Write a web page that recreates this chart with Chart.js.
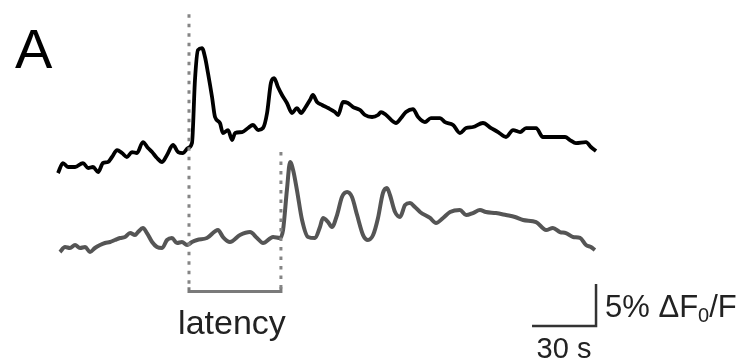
<!DOCTYPE html>
<html>
<head>
<meta charset="utf-8">
<script src="https://cdn.jsdelivr.net/npm/chart.js@4"></script>
<style>
  body { margin: 0; background: #fff; }
  #wrap { width: 746px; height: 364px; }
</style>
</head>
<body>
<div id="wrap"><canvas id="traceChart" width="746" height="364"></canvas></div>
<script>
// time in s, signal in % dF0/F (each trace relative to its own start baseline)
const blackTime = [0, 2.3, 4.7, 8.0, 11.7, 14.1, 16.4, 18.8, 21.1, 23.4, 25.3, 27.7, 30.0, 32.3, 34.7, 37.0, 39.8, 42.2, 44.1, 46.4, 48.8, 51.1, 53.9, 56.3, 58.6, 60.9, 62.8,
  64.2, 65.6, 67.5, 68.9, 70.3, 72.2, 73.6, 75.9, 77.3, 79.7, 81.6, 83.0, 86.3, 89.1, 91.4, 93.8, 96.1, 98.0, 99.8, 101.3, 103.1, 105.0, 107.3, 109.7, 112.0, 113.9,
  115.8, 118.1, 119.5, 121.4, 123.8, 126.6, 129.8, 131.3, 133.6, 135.9, 138.3, 141.6, 143.9, 147.2, 150.0, 151.4, 153.8, 158.4, 160.8, 163.1, 166.4, 168.8, 172.0,
  174.8, 179.1, 181.4, 185.2, 188.4, 191.3, 194.5, 199.2, 203.0, 206.3, 210.0, 213.3, 216.6, 219.4, 224.1, 227.3, 232.0, 237.7, 240.0, 242.8, 247.5, 249.8, 252.2];
const blackSignal = [-0.36, 0.83, 0.36, 0.36, 0.83, 0.24, 0.36, -0.24, 0.83, 0.95, 1.55, 2.38, 2.02, 1.55, 2.14, 2.02, 3.33, 2.62, 2.14, 1.43, 0.95, 1.79, 2.98, 2.14, 2.02, 2.62, 3.21,
  10.71, 14.29, 14.52, 13.45, 11.55, 8.69, 6.31, 5.60, 4.40, 4.76, 3.57, 4.40, 4.52, 5.00, 5.36, 4.76, 5.00, 6.79, 10.36, 10.95, 9.88, 8.93, 7.98, 6.79, 7.38, 6.79,
  7.38, 8.33, 8.93, 8.10, 7.74, 7.38, 6.90, 6.55, 8.10, 7.98, 7.50, 7.14, 6.55, 6.31, 6.55, 6.90, 6.55, 5.60, 6.19, 6.90, 7.26, 6.31, 5.71,
  6.19, 6.19, 5.71, 5.36, 4.40, 5.00, 5.12, 5.60, 5.00, 4.52, 3.93, 4.76, 4.52, 5.00, 5.00, 3.93, 3.93, 3.93, 3.57, 3.21, 3.33, 2.74, 2.26];

const grayTime = [0.9, 3.3, 5.6, 8.0, 10.3, 12.7, 15.0, 17.3, 19.7, 22.0, 24.4, 26.7, 29.1, 31.4, 33.8, 36.1, 37.5, 39.8, 41.7, 44.1, 46.4, 48.8, 51.1, 53.4, 55.8, 58.1, 60.5, 62.8, 65.2,
  69.8, 75.0, 77.3, 80.6, 85.3, 90.0, 93.3, 96.1, 100.8, 104.1, 105.5, 107.3, 108.8, 110.2, 112.0, 114.4, 117.2, 120.5, 122.8, 124.2, 126.6, 128.4, 130.8,
  133.1, 135.5, 137.8, 140.2, 143.0, 145.3, 147.7, 150.0, 152.3, 154.2, 155.6, 158.0, 160.3, 162.7, 165.0, 167.3, 169.7, 174.4, 177.2, 180.5, 183.8, 188.4,
  191.3, 194.5, 197.8, 200.6, 205.3, 210.0, 214.2, 218.0, 224.1, 228.8, 232.0, 235.3, 238.1, 241.4, 244.7, 247.5, 249.8, 251.7];
const graySignal = [0, 0.60, 0.48, 0.83, 0.48, 0.60, 0, 0.48, 0.83, 1.07, 1.19, 1.43, 1.67, 1.79, 2.26, 2.02, 2.38, 2.86, 2.26, 1.19, 0.60, 0.48, 1.43, 1.67, 1.07, 1.19, 0.83, 1.19, 1.43,
  1.67, 2.62, 1.79, 1.19, 2.02, 2.38, 1.67, 1.07, 1.79, 1.67, 2.62, 7.38, 10.71, 9.76, 7.38, 3.81, 1.79, 1.67, 2.98, 4.05, 3.57, 2.98, 4.40,
  6.55, 7.14, 6.55, 4.40, 2.02, 1.43, 2.02, 4.05, 7.02, 7.62, 6.79, 4.76, 4.17, 5.60, 5.83, 5.36, 4.76, 4.05, 3.45, 4.05, 4.76, 5.00,
  4.40, 4.64, 5.00, 4.76, 4.64, 4.40, 4.17, 3.81, 3.57, 2.62, 2.86, 2.38, 2.26, 1.79, 1.67, 0.83, 0.60, 0.24];

const traceOffset = 9.76;          // black trace drawn above the gray one
const onsetBlack = 61.4;           // response onset, s
const onsetGray = 104.5;
const latencyLevel = -4.7;         // bracket level under the traces
const scaleBarTime = [222.2, 252.2, 252.2];   // 30 s
const scaleBarSignal = [-8.81, -8.81, -3.81]; // 5 %

function toPoints(xs, ys, shift) {
    return xs.map((x, i) => ({ x: x, y: ys[i] + shift }));
}

const labelPlugin = {
    id: "labels",
    afterDatasetsDraw(chart) {
        const c = chart.ctx;
        const xs = chart.scales.x, ys = chart.scales.y;
        c.save();
        c.textBaseline = "alphabetic";
        c.fillStyle = "#000";
        c.font = "56px 'Liberation Sans', Arial, sans-serif";
        c.textAlign = "left";
        c.fillText("A", 15, 68);

        c.fillStyle = "#222";
        c.font = "34px 'Liberation Sans', Arial, sans-serif";
        c.textAlign = "center";
        c.fillText("latency", (xs.getPixelForValue(onsetBlack) + xs.getPixelForValue(onsetGray)) / 2 - 3, ys.getPixelForValue(latencyLevel) + 42);

        c.font = "29px 'Liberation Sans', Arial, sans-serif";
        c.fillText("30 s", (xs.getPixelForValue(scaleBarTime[0]) + xs.getPixelForValue(scaleBarTime[1])) / 2, ys.getPixelForValue(scaleBarSignal[0]) + 32);

        // 5% dF0/F with subscript
        c.textAlign = "left";
        let x = xs.getPixelForValue(scaleBarTime[2]) + 9;
        const base = ys.getPixelForValue(scaleBarSignal[0]) - 9;
        c.font = "31px 'Liberation Sans', Arial, sans-serif";
        c.fillText("5% \u0394F", x, base);
        x += c.measureText("5% \u0394F").width;
        c.font = "20px 'Liberation Sans', Arial, sans-serif";
        c.fillText("0", x, base + 5);
        x += c.measureText("0").width;
        c.font = "31px 'Liberation Sans', Arial, sans-serif";
        c.fillText("/F", x, base);
        c.restore();
    }
};

const ctx = document.getElementById("traceChart").getContext("2d");
new Chart(ctx, {
    type: "scatter",
    data: {
        datasets: [
            {
                data: [{ x: onsetBlack, y: 28.3 }, { x: onsetBlack, y: -4.4 }],
                showLine: true, borderColor: "#858585", borderWidth: 3, borderDash: [3.5, 6], pointRadius: 0
            },
            {
                data: [{ x: onsetGray, y: 11.9 }, { x: onsetGray, y: -4.4 }],
                showLine: true, borderColor: "#858585", borderWidth: 3, borderDash: [3.5, 6], pointRadius: 0
            },
            {
                data: [{ x: onsetBlack, y: -4.2 }, { x: onsetBlack, y: latencyLevel }, { x: onsetGray, y: latencyLevel }, { x: onsetGray, y: -4.2 }],
                showLine: true, borderColor: "#7a7a7a", borderWidth: 3, pointRadius: 0
            },
            {
                data: toPoints(grayTime, graySignal, 0),
                showLine: true, borderColor: "#555555", borderWidth: 4, pointRadius: 0, cubicInterpolationMode: "monotone"
            },
            {
                data: toPoints(blackTime, blackSignal, traceOffset),
                showLine: true, borderColor: "#000000", borderWidth: 3.8, pointRadius: 0, cubicInterpolationMode: "monotone"
            },
            {
                data: toPoints(scaleBarTime, scaleBarSignal, 0),
                showLine: true, borderColor: "#333333", borderWidth: 2.5, pointRadius: 0
            }
        ]
    },
    options: {
        responsive: false,
        animation: false,
        layout: { padding: 0 },
        scales: {
            x: { type: "linear", min: -27.19, max: 322.5, display: false },
            y: { type: "linear", min: -13.33, max: 30, display: false }
        },
        plugins: {
            legend: { display: false },
            tooltip: { enabled: false }
        }
    },
    plugins: [labelPlugin]
});
</script>
</body>
</html>
